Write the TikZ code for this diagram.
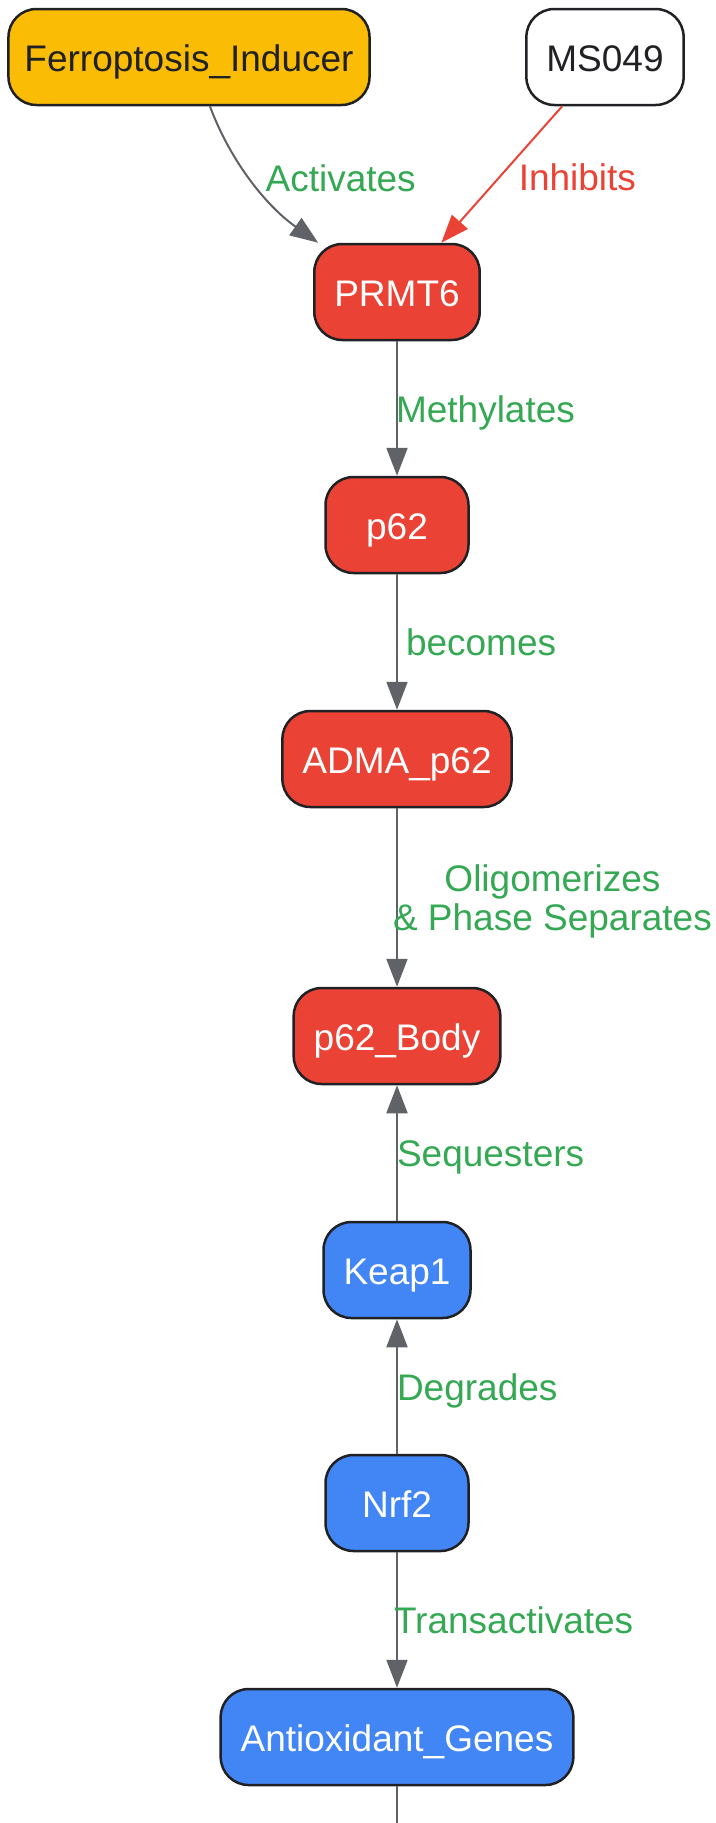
\documentclass[tikz,border=0pt]{standalone}
\usepackage{fontspec}
\setmainfont{Liberation Sans}
\usetikzlibrary{arrows.meta}
\definecolor{inkdark}{HTML}{202124}
\definecolor{edgegray}{HTML}{5F6368}
\definecolor{labgreen}{HTML}{34A853}
\definecolor{gred}{HTML}{EA4335}
\definecolor{gblue}{HTML}{4285F4}
\definecolor{gyellow}{HTML}{FBBC05}

\begin{document}
\begin{tikzpicture}[x=1pt,y=-1pt,
  box/.style={draw=inkdark, line width=2.5pt, rounded corners=28pt,
    minimum height=96pt, minimum width=143pt, inner xsep=20pt,
    text height=30pt, text depth=1pt,
    font=\fontsize{37}{40}\selectfont},
  redbox/.style={box, fill=gred, text=white},
  bluebox/.style={box, fill=gblue, text=white},
  flow/.style={edgegray, line width=2pt, -{Triangle[length=28pt,width=21pt]}},
  lbl/.style={labgreen, inner sep=0pt, anchor=west, align=center,
    text height=27pt, text depth=0pt,
    font=\fontsize{37}{39}\selectfont},
  twolines/.style={text height=66pt}]
\useasboundingbox (0,0) rectangle (715,1823);

% nodes
\node[box, fill=gyellow, text=inkdark, inner xsep=16pt] (fer) at (189,57) {Ferroptosis\_Inducer};
\node[box, fill=white, text=inkdark] (ms) at (605,57) {MS049};
\node[redbox] (prmt) at (397,292) {PRMT6};
\node[redbox] (ptwo) at (397,525) {p62};
\node[redbox] (adma) at (397,759) {ADMA\_p62};
\node[redbox] (body) at (397,1036) {p62\_Body};
\node[bluebox] (keap) at (397,1270) {Keap1};
\node[bluebox] (nrf) at (397,1503) {Nrf2};
\node[bluebox] (genes) at (397,1737) {Antioxidant\_Genes};
\coordinate (cut) at (397,1823);

% top edges
\draw[flow] (fer.-67) .. controls (230,160) and (265,205) ..
  node[lbl, xshift=13pt, yshift=3pt] {Activates} (prmt.148);
\draw[flow, gred] (ms.229) --
  node[lbl, text=gred, xshift=16pt, yshift=-2pt] {Inhibits} (prmt.48);

% main chain
\foreach \src/\dst/\txt/\dx/\opt in {prmt/ptwo/Methylates/-2/{}, ptwo/adma/becomes/8/{},
    adma/body/{Oligomerizes\\\& Phase Separates}/-5/twolines, keap/body/Sequesters/-1/{},
    nrf/keap/Degrades/-1/{}, nrf/genes/Transactivates/-4/{}}
  \draw[flow] (\src) -- node[lbl, xshift=\dx pt, \opt] {\txt} (\dst);

\draw[edgegray, line width=2pt] (genes) -- (cut);
\end{tikzpicture}
\end{document}
